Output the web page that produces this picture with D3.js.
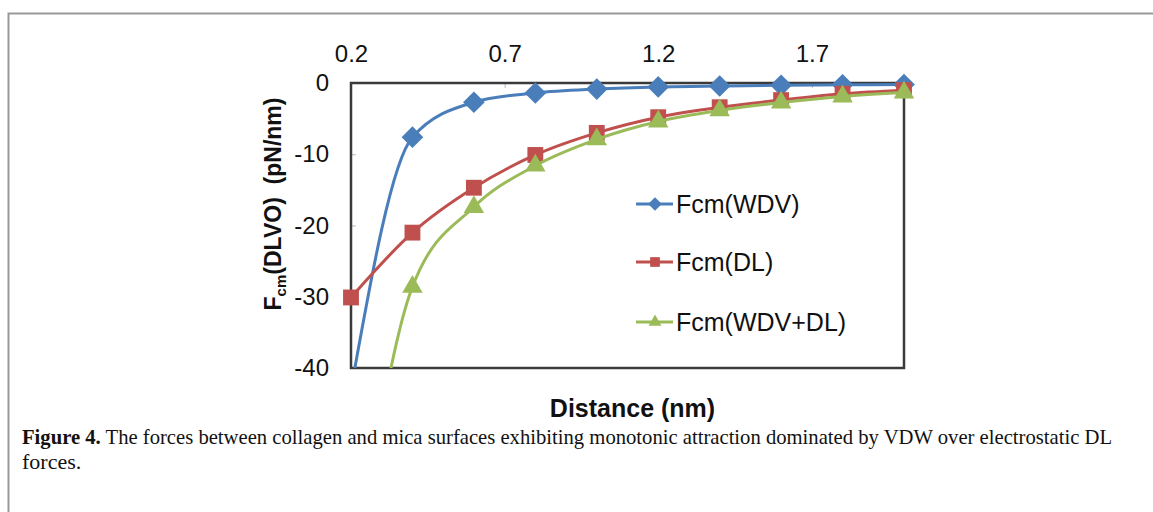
<!DOCTYPE html>
<html>
<head>
<meta charset="utf-8">
<script src="https://cdn.jsdelivr.net/npm/d3@7"></script>
<style>
  body { margin: 0; background: #fff; }
  svg { display: block; }
</style>
</head>
<body>
<div id="chart"></div>
<script>
// values
var distance = [0.2, 0.4, 0.6, 0.8, 1.0, 1.2, 1.4, 1.6, 1.8, 2.0];
var fcmWdv   = [-43, -7.6, -2.7, -1.4, -0.85, -0.55, -0.42, -0.33, -0.26, -0.22];
var fcmDl    = [-30.1, -21.0, -14.7, -10.1, -7.0, -4.8, -3.4, -2.4, -1.5, -1.0];
var fcmSum   = [-73, -28.6, -17.4, -11.6, -7.9, -5.4, -3.85, -2.75, -1.9, -1.35];

var xTicks = [0.2, 0.7, 1.2, 1.7];
var yTicks = [0, -10, -20, -30, -40];

var seriesNames = ["Fcm(WDV)", "Fcm(DL)", "Fcm(WDV+DL)"];
var seriesData = [fcmWdv, fcmDl, fcmSum];
var seriesColors = ["#4a7ebb", "#c0504d", "#9bbb59"];
var seriesMarkers = ["diamond", "square", "triangle"];

var w = 1153, h = 512;
var plotL = 351, plotR = 904, plotT = 83, plotB = 368;

var svg = d3.select("#chart").append("svg")
	.attr("width", w)
	.attr("height", h);

// page border (partial frame from the source pdf)
svg.append("path")
	.attr("d", "M8.5," + h + "V13.5H" + w)
	.attr("fill", "none")
	.attr("stroke", "#999")
	.attr("stroke-width", 2);

var xScale = d3.scaleLinear().domain([0.2, 2.0]).range([plotL, plotR]);
var yScale = d3.scaleLinear().domain([-40, 0]).range([plotB, plotT]);

svg.append("clipPath").attr("id", "plotClip")
	.append("rect")
	.attr("x", plotL).attr("y", plotT)
	.attr("width", plotR - plotL).attr("height", plotB - plotT);

// axes, ticks pointing inside
var xAxis = d3.axisTop(xScale).tickValues(xTicks)
	.tickFormat(d3.format(".1f"))
	.tickSizeInner(-5).tickSizeOuter(0).tickPadding(21);
var gx = svg.append("g")
	.attr("transform", "translate(0," + plotT + ")")
	.call(xAxis);

var yAxis = d3.axisLeft(yScale).tickValues(yTicks)
	.tickFormat(function(d) { return d === 0 ? "0" : "-" + Math.abs(d); })
	.tickSizeInner(-5).tickSizeOuter(0).tickPadding(22);
var gy = svg.append("g")
	.attr("transform", "translate(" + plotL + ",0)")
	.call(yAxis);

[gx, gy].forEach(function(g) {
	g.select(".domain").remove();
	g.selectAll(".tick line").attr("stroke", "#bbb");
	g.selectAll(".tick text")
		.attr("fill", "#111")
		.style("font-family", "'Liberation Sans', Arial, sans-serif")
		.style("font-size", "24px");
});

// plot frame
svg.append("rect")
	.attr("x", plotL).attr("y", plotT)
	.attr("width", plotR - plotL).attr("height", plotB - plotT)
	.attr("fill", "none")
	.attr("stroke", "#3a3a3a")
	.attr("stroke-width", 2.5);

var line = d3.line()
	.x(function(d, i) { return xScale(distance[i]); })
	.y(function(d) { return yScale(d); })
	.curve(d3.curveMonotoneX);

function markerPath(type, size) {
	var sym = type === "diamond" ? d3.symbolDiamond2 : type === "square" ? d3.symbolSquare2 : d3.symbolTriangle2;
	return d3.symbol().type(sym).size(size)();
}
var markerSize = {diamond: 300, square: 320, triangle: 300};

seriesData.forEach(function(data, s) {
	svg.append("path")
		.datum(data)
		.attr("fill", "none")
		.attr("stroke", seriesColors[s])
		.attr("stroke-width", 3)
		.attr("clip-path", "url(#plotClip)")
		.attr("d", line);

	var pts = data.map(function(d, i) { return {x: distance[i], y: d}; })
		.filter(function(p) { return p.y >= -40; });

	svg.selectAll(".m" + s)
		.data(pts)
		.enter().append("path")
		.attr("class", "m" + s)
		.attr("transform", function(p) { return "translate(" + xScale(p.x) + "," + yScale(p.y) + ")"; })
		.attr("fill", seriesColors[s])
		.attr("d", markerPath(seriesMarkers[s], markerSize[seriesMarkers[s]]));
});

// legend
var legendY = [204, 262, 322];
seriesNames.forEach(function(name, s) {
	var g = svg.append("g").attr("transform", "translate(0," + legendY[s] + ")");
	g.append("line")
		.attr("x1", 636).attr("x2", 673)
		.attr("stroke", seriesColors[s])
		.attr("stroke-width", 3);
	g.append("path")
		.attr("transform", "translate(655,0)")
		.attr("fill", seriesColors[s])
		.attr("d", markerPath(seriesMarkers[s], 120));
	g.append("text")
		.attr("x", 676).attr("dy", "0.36em")
		.style("font-family", "'Liberation Sans', Arial, sans-serif")
		.style("font-size", "25px")
		.attr("fill", "#111")
		.text(name);
});

// axis titles
svg.append("text")
	.attr("x", (plotL + plotR) / 2 + 5).attr("y", 417)
	.attr("text-anchor", "middle")
	.style("font-family", "'Liberation Sans', Arial, sans-serif")
	.style("font-size", "25px")
	.style("font-weight", "bold")
	.attr("fill", "#111")
	.text("Distance (nm)");

var yLabel = svg.append("text")
	.attr("transform", "translate(281,204) rotate(-90)")
	.attr("text-anchor", "middle")
	.style("font-family", "'Liberation Sans', Arial, sans-serif")
	.style("font-size", "23px")
	.style("font-weight", "bold")
	.style("white-space", "pre")
	.attr("fill", "#111");
yLabel.append("tspan").text("F");
yLabel.append("tspan").attr("dy", 5).style("font-size", "15px").text("cm");
yLabel.append("tspan").attr("dy", -5).text("(DLVO)  (pN/nm)");

// caption
var caption = svg.append("text")
	.attr("x", 22).attr("y", 444)
	.attr("textLength", 1090)
	.attr("lengthAdjust", "spacingAndGlyphs")
	.style("font-family", "'Liberation Serif', 'Times New Roman', serif")
	.style("font-size", "21px")
	.attr("fill", "#111");
caption.append("tspan").style("font-weight", "bold").text("Figure 4.");
caption.append("tspan").text(" The forces between collagen and mica surfaces exhibiting monotonic attraction dominated by VDW over electrostatic DL");

svg.append("text")
	.attr("x", 22).attr("y", 469)
	.style("font-family", "'Liberation Serif', 'Times New Roman', serif")
	.style("font-size", "22px")
	.attr("fill", "#111")
	.text("forces.");
</script>
</body>
</html>
